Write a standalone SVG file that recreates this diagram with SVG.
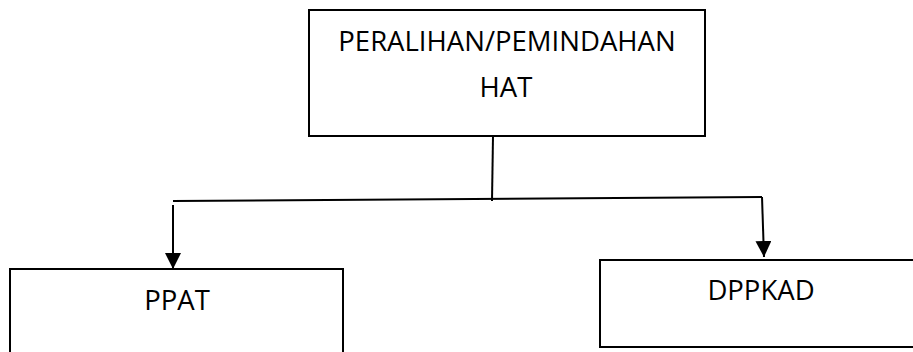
<svg xmlns="http://www.w3.org/2000/svg" width="913" height="352" viewBox="0 0 913 352">
<style>
.box{fill:#fff;stroke:#000;stroke-width:2}
.lbl{font-family:"Open Sans","Liberation Sans",sans-serif;font-size:27.5px;fill:#000;text-anchor:middle}
.ln{fill:none;stroke:#000;stroke-width:2}
</style>
<defs>
<marker id="ah2" viewBox="0 0 16 16" refX="16" refY="8" markerWidth="16" markerHeight="16" markerUnits="userSpaceOnUse" orient="auto">
<path d="M0,0 L16,8 L0,16 z" fill="#000"/>
</marker>
</defs>
<g id="connectors">
<path class="ln" d="M493,136 L492,201"/>
<path class="ln" d="M173,201 L762,197"/>
<path class="ln" d="M173,205 L173,269" marker-end="url(#ah2)"/>
<path class="ln" d="M762,197 L764,257" marker-end="url(#ah2)"/>
</g>
<g id="node-top">
<rect class="box" x="309" y="10" width="396" height="126"/>
<text class="lbl" x="507" y="51">PERALIHAN/PEMINDAHAN</text>
<text class="lbl" x="506" y="97">HAT</text>
</g>
<g id="node-ppat">
<rect class="box" x="10" y="269" width="333" height="100"/>
<text class="lbl" x="177" y="310">PPAT</text>
</g>
<g id="node-dppkad">
<rect class="box" x="600" y="260" width="330" height="87"/>
<text class="lbl" x="761" y="300">DPPKAD</text>
</g>
</svg>
